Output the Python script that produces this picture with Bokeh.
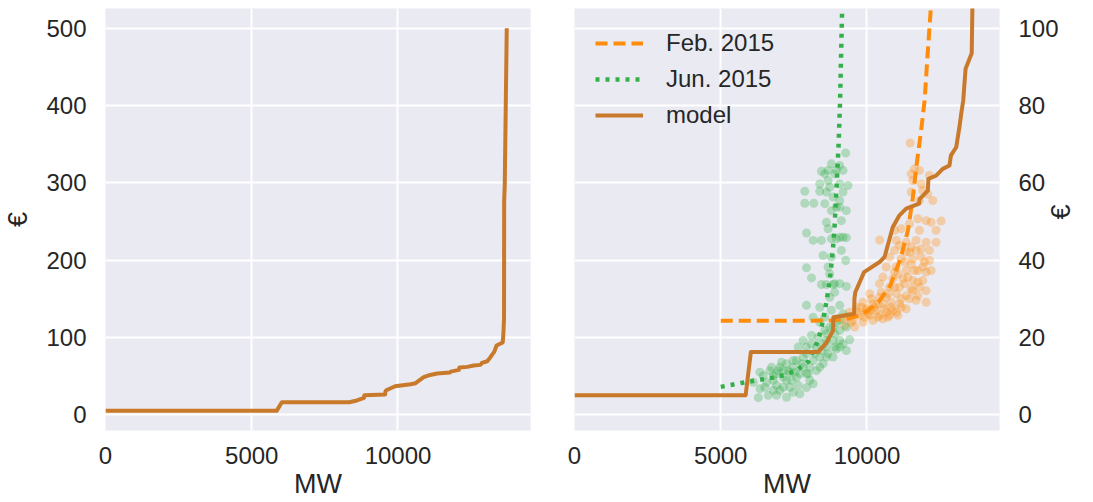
import math
from bokeh.plotting import figure
from bokeh.layouts import row
from bokeh.models import Range1d, FixedTicker, Legend, LegendItem
from bokeh.embed import file_html
from bokeh.resources import INLINE

# ---------------- data (MW, EUR) ----------------
model_mw = [0, 5850, 6030, 8330, 8600, 8840, 8850, 9560, 9570, 9600, 9900, 10430, 10600,
            10880, 11100, 11340, 11780, 11800, 12080, 12100, 12370, 12590, 12820, 12870,
            13050, 13160, 13220, 13290, 13370, 13580, 13605, 13625, 13630, 13650, 13718]
model_eur = [5, 5, 16.2, 16.2, 18.5, 21.8, 25.2, 26.1, 30, 31.7, 36.9, 39.5, 40.8,
             48.5, 51.5, 53.3, 54.6, 55.8, 58, 61, 61.9, 63.6, 64.5, 67.1,
             69.2, 74.4, 77.8, 81.3, 89.5, 93.5, 106, 125, 277, 298, 500]

feb_fit_mw = [5000, 6000, 7000, 8000, 8800, 9300, 9700, 10000, 10400, 10800, 11150,
              11400, 11570, 11700, 11850, 11970, 12070, 12190]
feb_fit_eur = [24.3, 24.3, 24.3, 24.3, 24.4, 24.8, 25.6, 26.8, 29.2, 33.5, 40.5,
               47.7, 56.3, 64.9, 73.5, 81.3, 93.0, 106]

jun_fit_mw = [5000, 5700, 6300, 6800, 7200, 7600, 8000, 8330, 8500, 8640, 8750,
              8840, 8897, 8950, 8995, 9030, 9080, 9150]
jun_fit_eur = [7.2, 8.2, 9.0, 9.6, 10.3, 11.5, 13.8, 19.2, 24.4, 30.4, 36.4,
               43.3, 49.4, 57.2, 64.5, 70.0, 81.3, 105]

feb_obs_mw = [11476, 11624, 11510, 11794, 12135, 11567, 11851, 11510, 11908, 12249,
              12078, 11794, 11737, 12021, 12533, 12192, 11453, 11169, 10942, 11794,
              12362, 10431, 10999, 11340, 11681, 12021, 12362, 11113, 11510, 11851,
              11453, 10772, 11169, 11567, 11851, 12135, 10658, 10999, 11340, 11737,
              12021, 10545, 10885, 11226, 11567, 11908, 10431, 10772, 11113, 11510,
              11794, 10090, 10431, 10715, 10999, 11340, 11737, 12021, 9863, 10204,
              10545, 10829, 11113, 11453, 9636, 9977, 10317, 10658, 10999, 11340,
              9409, 9749, 10090, 10431, 10772, 11056, 9181, 9522, 9863, 10204,
              10545, 9238, 9579, 9977, 11567, 11624, 11283, 10942, 11681, 12135,
              11965, 11510, 10658, 10374, 10147, 9806, 10829, 11169, 11681, 11340,
              12192, 12021,
              9352, 9693, 10033, 10261, 10601, 10885, 11169, 9920, 10374, 10715,
              9465, 10147, 10488, 10942, 11056, 11397, 11737, 11283, 10942, 11908]
feb_obs_eur = [70.3, 63.6, 62.3, 63.2, 61.9, 60.6, 59.7, 57.6, 58.0, 55.4,
               57.1, 55.4, 50.7, 50.2, 50.1, 49.8, 49.4, 48.1, 47.7, 47.7,
               47.7, 45.2, 45.1, 44.6, 45.1, 44.6, 44.6, 43.8, 43.4, 42.9,
               42.1, 40.8, 40.3, 40.3, 40.8, 39.9, 38.2, 38.2, 37.3, 37.3,
               36.9, 35.6, 35.2, 35.2, 34.7, 34.7, 33.9, 33.0, 33.0, 32.6,
               33.0, 31.3, 30.4, 31.3, 31.3, 30.8, 30.8, 29.1, 29.1, 28.7,
               28.7, 29.1, 28.7, 30.0, 27.8, 27.4, 27.0, 26.5, 26.5, 27.4,
               26.5, 25.7, 25.7, 25.7, 25.7, 25.7, 24.8, 24.4, 23.9, 24.4,
               24.8, 23.1, 22.7, 27.0, 32.1, 37.3, 33.9, 42.5, 42.5, 42.5,
               39.5, 39.0, 30.4, 28.7, 27.0, 27.8, 27.8, 30.0, 29.6, 42.1,
               37.3, 32.1,
               25.2, 26.5, 26.1, 27.8, 27.4, 27.0, 27.8, 25.2, 25.2, 25.2,
               23.9, 30.0, 31.7, 33.0, 36.4, 35.6, 34.3, 39.5, 36.9, 38.2]

jun_obs_mw = [9271, 8442, 8783, 9067, 9181, 8897, 8669, 8385, 9067, 9351,
              7874, 8385, 8613, 9181, 8840, 9067, 7874, 8181, 8556, 9067,
              9294, 8783, 9124, 8613, 7931, 8669, 8158, 8442, 8783, 9067,
              9294, 9124, 8499, 8783, 9271, 7931, 8669, 8101, 8726, 8442,
              8840, 9067, 9294, 8897, 8726, 9067, 7931, 8385, 8783, 8158,
              8556, 9067, 8385, 8840, 9294, 9408, 9067, 8613, 8101, 7817,
              7647, 8272, 8613, 8953, 9181, 9294, 7931, 8385, 8840, 7477,
              8158, 7249, 7817, 8499, 7022, 6681, 7363, 7931, 8272, 6341,
              6795, 7136, 7590, 8045, 6568, 6909, 7363, 7931, 8158, 7022,
              6341, 6625, 6909, 7249, 6284, 7704, 7420, 6113, 7817, 8613,
              8726, 9067, 7136, 7477, 7704, 8045, 8385, 8613, 6909, 7249,
              6795, 7590, 7931, 8840, 8499, 8897, 9067, 8897, 8613, 8953,
              8669, 8556, 8726, 8953, 9181, 8953,
              6454, 6738, 6965, 7079, 7306, 7533, 7761, 7988, 8215, 8442,
              8669, 8897, 8101, 8329, 8556, 8953, 9181, 7647, 7136, 6795,
              7477, 6511]
jun_obs_eur = [67.7, 63.0, 64.9, 64.5, 63.2, 62.3, 60.6, 59.7, 59.7, 59.3,
               57.8, 57.8, 57.6, 57.6, 56.3, 55.4, 54.7, 54.7, 54.6, 53.7,
               52.8, 52.8, 50.2, 49.8, 47.0, 48.1, 45.1, 45.1, 45.5, 45.9,
               45.8, 42.5, 41.2, 40.8, 39.9, 38.0, 38.2, 35.4, 36.4, 33.7,
               33.7, 33.9, 33.2, 31.7, 30.4, 28.3, 28.3, 27.8, 27.0, 25.2,
               25.2, 24.4, 23.9, 22.7, 22.7, 19.4, 19.2, 19.2, 20.5, 19.2,
               17.5, 17.5, 17.5, 17.0, 18.3, 16.6, 15.8, 14.9, 14.9, 14.0,
               14.0, 13.2, 12.3, 13.2, 12.3, 11.4, 11.0, 10.6, 11.4, 11.0,
               10.1, 9.7, 9.7, 8.9, 8.4, 7.6, 7.1, 7.0, 8.0, 6.3,
               6.7, 5.0, 5.0, 4.5, 4.4, 5.4, 8.9, 8.4, 14.9, 20.9,
               22.7, 21.8, 11.4, 12.3, 10.6, 12.3, 12.3, 14.9, 10.6, 8.9,
               8.9, 14.0, 17.5, 19.2, 18.3, 20.9, 17.5, 33.9, 33.7, 63.2,
               63.2, 62.3, 58.9, 53.7, 45.9, 45.5,
               10.1, 12.3, 11.4, 13.6, 11.4, 11.0, 13.2, 10.6, 15.8, 16.6,
               15.8, 17.5, 18.3, 20.0, 21.8, 23.9, 26.1, 7.6, 7.1, 6.3,
               5.8, 7.1]

x_ticks = [0, 5000, 10000]
left_y_ticks = [0, 100, 200, 300, 400, 500]
right_y_ticks = [0, 20, 40, 60, 80, 100]
legend_labels = ["Feb. 2015", "Jun. 2015", "model"]
x_label = "MW"
y_label = "€"

# ---------------- style ----------------
BG = "#EAEAF2"
TXT = "#262626"
FONT = "Liberation Sans"
C_MODEL = "#C8792A"
C_FEB = "#FF8C0A"
C_JUN = "#34B04A"


def style(p, yticks):
    p.background_fill_color = BG
    p.border_fill_color = "white"
    p.outline_line_color = None
    p.grid.grid_line_color = "white"
    p.grid.grid_line_width = 2
    p.xaxis.ticker = FixedTicker(ticks=x_ticks)
    p.yaxis.ticker = FixedTicker(ticks=yticks)
    for ax in p.axis:
        ax.axis_line_color = None
        ax.major_tick_line_color = None
        ax.minor_tick_line_color = None
        ax.major_tick_in = 0
        ax.major_tick_out = 0
        ax.major_label_text_font = FONT
        ax.major_label_text_font_size = "24px"
        ax.major_label_text_color = TXT
        ax.axis_label_text_font = FONT
        ax.axis_label_text_font_size = "27px"
        ax.axis_label_text_color = TXT
        ax.axis_label_text_font_style = "normal"
    p.xaxis.axis_label = x_label
    p.xaxis.major_label_standoff = 16
    p.xaxis.axis_label_standoff = 2
    p.yaxis.major_label_standoff = 19
    p.yaxis.axis_label = y_label


X_MAX = 14530
H = 502

p1 = figure(width=552, height=H, x_range=Range1d(0, X_MAX), y_range=Range1d(-20.4, 525.5),
            min_border_left=103, min_border_right=22, min_border_top=8, min_border_bottom=72,
            output_backend="svg", toolbar_location=None)
style(p1, left_y_ticks)
p1.yaxis.axis_label_standoff = 10
p1.line(model_mw, model_eur, line_color=C_MODEL, line_width=4, line_join="round")

p2 = figure(width=541, height=H, x_range=Range1d(0, X_MAX), y_range=Range1d(-4.09, 105.1),
            y_axis_location="right",
            min_border_left=22, min_border_right=93, min_border_top=8, min_border_bottom=72,
            output_backend="svg", toolbar_location=None)
style(p2, right_y_ticks)
p2.yaxis.axis_label_standoff = -1
# make the right-hand title read bottom-to-top like the left one, when supported
for ax in p2.yaxis:
    if "axis_label_orientation" in ax.properties():
        ax.axis_label_orientation = math.pi / 2

p2.scatter(feb_obs_mw, feb_obs_eur, size=9, fill_color=C_FEB, fill_alpha=0.32, line_color=None)
p2.scatter(jun_obs_mw, jun_obs_eur, size=9, fill_color=C_JUN, fill_alpha=0.32, line_color=None)
r_feb = p2.line(feb_fit_mw, feb_fit_eur, line_color=C_FEB, line_width=4, line_dash="12 6")
r_jun = p2.line(jun_fit_mw, jun_fit_eur, line_color=C_JUN, line_width=4.5, line_dash="4 6")
r_mod = p2.line(model_mw, model_eur, line_color=C_MODEL, line_width=4, line_join="round")

legend = Legend(items=[LegendItem(label=legend_labels[0], renderers=[r_feb]),
                       LegendItem(label=legend_labels[1], renderers=[r_jun]),
                       LegendItem(label=legend_labels[2], renderers=[r_mod])],
                location=(16, 292), orientation="vertical",
                label_text_font=FONT, label_text_font_size="24px", label_text_color=TXT,
                glyph_width=48, glyph_height=36, label_height=36, spacing=0,
                padding=5, margin=0, label_standoff=23,
                background_fill_alpha=0, border_line_alpha=0)
p2.add_layout(legend, "center")

layout = row(p1, p2)
open("out.html", "w").write(file_html(layout, INLINE))
